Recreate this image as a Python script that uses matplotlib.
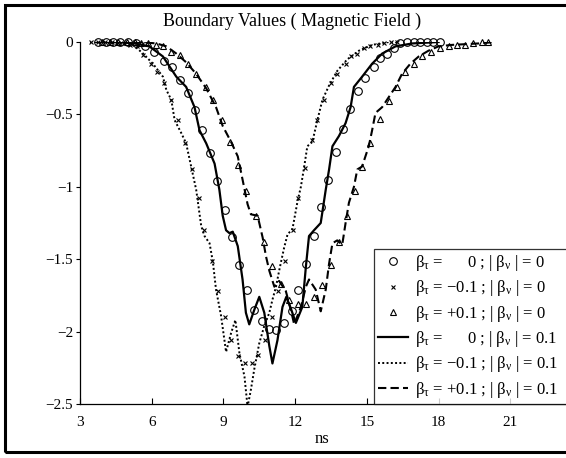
import matplotlib
matplotlib.use("Agg")
import matplotlib.pyplot as plt
from matplotlib.patches import Rectangle

plt.rcParams['font.family'] = ['Liberation Serif', 'DejaVu Serif']
plt.rcParams['mathtext.fontset'] = 'custom'
plt.rcParams['mathtext.rm'] = 'Liberation Serif'
plt.rcParams['mathtext.it'] = 'Liberation Serif:italic'

# beta_tau = 0, |beta_nu| = 0.1  (solid)
solid_t = [3.7, 4.5, 5.3, 5.9, 6.47, 7.03, 7.44, 7.79, 8.0, 8.28, 8.63, 8.83, 8.97,
           9.11, 9.25, 9.39, 9.6, 9.8, 9.94, 10.08, 10.29, 10.5, 10.71, 10.92, 11.05,
           11.26, 11.47, 11.63, 11.82, 12.03, 12.3, 12.45, 12.58, 12.79, 13.07, 13.28,
           13.42, 13.56, 13.83, 14.11, 14.32, 14.46, 14.8, 15.22, 15.64, 16.2, 16.9, 18.0]
solid_v = [0, 0, -0.01, -0.03, -0.10, -0.24, -0.31, -0.45, -0.61, -0.70, -0.84, -1.02, -1.20,
           -1.30, -1.32, -1.31, -1.41, -1.64, -1.87, -1.95, -1.85, -1.76, -1.87, -2.10, -2.22,
           -2.06, -1.83, -1.76, -1.84, -1.94, -1.83, -1.55, -1.34, -1.30, -1.25, -1.02,
           -0.88, -0.72, -0.65, -0.56, -0.45, -0.31, -0.24, -0.15, -0.08, -0.03, -0.01, 0]

# beta_tau = -0.1, |beta_nu| = 0.1  (dotted)
dot_t = [3.42, 4.3, 5.22, 5.64, 6.05, 6.47, 6.61, 6.82, 6.96, 7.24, 7.44, 7.65, 7.86, 8.07,
         8.21, 8.42, 8.56, 8.69, 8.9, 9.11, 9.32, 9.5, 9.67, 9.88, 10.01, 10.15, 10.29,
         10.5, 10.71, 10.92, 11.05, 11.2, 11.33, 11.54, 11.68, 11.89, 12.1, 12.24, 12.38,
         12.51, 12.72, 12.93, 13.14, 13.42, 13.76, 14.18, 14.67, 15.22, 15.92, 16.33]
dot_v = [0, 0, -0.02, -0.08, -0.15, -0.24, -0.33, -0.40, -0.54, -0.63, -0.70, -0.86, -1.02, -1.27,
         -1.34, -1.39, -1.52, -1.71, -1.89, -2.14, -2.01, -1.92, -2.15, -2.31, -2.52, -2.40, -2.26,
         -2.08, -1.96, -1.87, -1.78, -1.69, -1.58, -1.42, -1.33, -1.29, -1.10, -1.0, -0.86,
         -0.72, -0.69, -0.54, -0.40, -0.30, -0.20, -0.12, -0.06, -0.02, 0, 0]

# beta_tau = +0.1, |beta_nu| = 0.1  (dashed)
dash_t = [4.2, 5.5, 6.2, 6.61, 7.03, 7.44, 7.86, 8.28, 8.69, 8.97, 9.32, 9.6, 9.8, 10.01,
          10.15, 10.43, 10.64, 10.78, 10.92, 11.13, 11.33, 11.61, 11.82, 11.96, 12.24, 12.45,
          12.58, 12.86, 13.07, 13.28, 13.42, 13.56, 13.76, 13.97, 14.11, 14.25, 14.46, 14.6,
          14.8, 15.08, 15.22, 15.36, 15.64, 15.92, 16.2, 16.47, 16.82, 17.17, 17.58, 18.0,
          18.56, 19.67, 20.36]
dash_v = [0, 0, -0.01, -0.03, -0.08, -0.14, -0.22, -0.32, -0.45, -0.58, -0.69, -0.79, -0.95, -1.12,
          -1.19, -1.20, -1.35, -1.48, -1.58, -1.69, -1.65, -1.72, -1.85, -1.95, -1.83, -1.69,
          -1.64, -1.71, -1.86, -1.71, -1.53, -1.39, -1.37, -1.40, -1.25, -1.11, -1.0, -0.88,
          -0.86, -0.72, -0.61, -0.49, -0.45, -0.38, -0.31, -0.22, -0.15, -0.10, -0.06, -0.03,
          -0.02, -0.01, 0]

# beta_nu = 0 cases, markers only
circ_t = [3.76, 4.08, 4.39, 4.69, 5.01, 5.36, 5.71, 6.08, 6.5, 6.86, 7.2, 7.51, 7.83, 8.11,
          8.42, 8.74, 9.08, 9.36, 9.64, 9.97, 10.29, 10.6, 10.92, 11.22, 11.54, 11.85, 12.14,
          12.45, 12.77, 13.08, 13.38, 13.72, 14.01, 14.29, 14.64, 14.92, 15.29, 15.57, 15.85,
          16.13, 16.4, 16.68, 16.96, 17.24, 17.51, 17.76, 18.04]
circ_v = [0, 0, 0, 0, 0, -0.01, -0.03, -0.07, -0.13, -0.17, -0.26, -0.35, -0.47, -0.61,
          -0.77, -0.96, -1.16, -1.35, -1.54, -1.71, -1.85, -1.93, -1.98, -1.99, -1.94, -1.86, -1.71,
          -1.53, -1.34, -1.14, -0.95, -0.76, -0.60, -0.46, -0.34, -0.25, -0.17, -0.11, -0.08,
          -0.04, -0.01, 0, 0, 0, 0, 0, 0]

cross_t = [3.45, 3.75, 4.05, 4.35, 4.6, 4.85, 5.1, 5.4, 5.64, 5.96, 6.23, 6.52, 6.82, 7.12,
           7.4, 7.68, 7.96, 8.2, 8.53, 8.76, 9.05, 9.32, 9.61, 9.89, 10.2, 10.43, 10.75, 11.05,
           11.3, 11.57, 11.89, 12.13, 12.4, 12.72, 12.93, 13.21, 13.49, 13.76, 14.11, 14.32,
           14.6, 14.88, 15.15, 15.45, 15.72, 16.0, 16.26]
cross_v = [0, 0, 0, 0, -0.01, -0.01, -0.02, -0.03, -0.09, -0.15, -0.21, -0.28, -0.40, -0.54,
           -0.70, -0.88, -1.08, -1.30, -1.51, -1.72, -1.90, -2.06, -2.17, -2.22, -2.22, -2.16, -2.06, -1.90,
           -1.72, -1.51, -1.30, -1.08, -0.87, -0.68, -0.54, -0.40, -0.28, -0.22, -0.15, -0.10,
           -0.08, -0.04, -0.03, -0.02, -0.01, 0, 0]

tri_t = [3.9, 4.25, 4.6, 4.95, 5.3, 5.55, 5.85, 6.17, 6.47, 6.82, 7.17, 7.51, 7.87, 8.25,
         8.56, 8.92, 9.28, 9.62, 9.94, 10.36, 10.69, 11.03, 11.4, 11.75, 12.1, 12.45, 12.79,
         13.14, 13.49, 13.83, 14.18, 14.5, 14.78, 15.15, 15.57, 15.92, 16.26, 16.61, 16.96,
         17.3, 17.68, 18.07, 18.42, 18.77, 19.1, 19.46, 19.8, 20.08]
tri_v = [0, 0, 0, 0, 0, -0.01, -0.01, -0.02, -0.03, -0.07, -0.09, -0.15, -0.22, -0.31,
         -0.40, -0.54, -0.69, -0.85, -1.03, -1.20, -1.38, -1.55, -1.67, -1.78, -1.81, -1.81, -1.76,
         -1.68, -1.54, -1.38, -1.20, -1.03, -0.86, -0.70, -0.53, -0.41, -0.31, -0.21, -0.15,
         -0.10, -0.07, -0.04, -0.03, -0.02, -0.02, -0.01, 0, 0]

labels = [r'β$_{\mathrm{\tau}}$ =      0 ; | β$_{\mathrm{\nu}}$ | = 0',
          r'β$_{\mathrm{\tau}}$ = −0.1 ; | β$_{\mathrm{\nu}}$ | = 0',
          r'β$_{\mathrm{\tau}}$ = +0.1 ; | β$_{\mathrm{\nu}}$ | = 0',
          r'β$_{\mathrm{\tau}}$ =      0 ; | β$_{\mathrm{\nu}}$ | = 0.1',
          r'β$_{\mathrm{\tau}}$ = −0.1 ; | β$_{\mathrm{\nu}}$ | = 0.1',
          r'β$_{\mathrm{\tau}}$ = +0.1 ; | β$_{\mathrm{\nu}}$ | = 0.1']

W, H = 566, 458
fig = plt.figure(figsize=(W / 100, H / 100), dpi=100)
# axes run past the right edge of the picture (original was cropped)
ax = fig.add_axes([80 / W, 1 - 404 / H, (582 - 80) / W, (404 - 42) / H])

h1, = ax.plot(circ_t, circ_v, 'o', mfc='none', mec='k', ms=5.5, mew=0.8, clip_on=False)
h2, = ax.plot(cross_t, cross_v, 'x', color='k', ms=3.5, mew=0.8, clip_on=False)
h3, = ax.plot(tri_t, tri_v, '^', mfc='none', mec='k', ms=4.5, mew=0.8, clip_on=False)
h4, = ax.plot(solid_t, solid_v, '-', color='k', lw=1.6)
h5, = ax.plot(dot_t, dot_v, color='k', lw=1.4, linestyle=(0, (1, 1.2)))
h6, = ax.plot(dash_t, dash_v, color='k', lw=1.5, linestyle=(0, (4, 2)))

ax.set_xlim(3, 24)
ax.set_ylim(-2.5, 0)
ax.set_xticks([3, 6, 9, 12, 15, 18, 21])
ax.set_yticks([-2.5, -2, -1.5, -1, -0.5, 0])
ax.set_yticklabels(['−2.5', '−2', '−1.5', '−1', '−0.5', '0'])
ax.spines['top'].set_visible(False)
ax.spines['right'].set_visible(False)
for s in ['left', 'bottom']:
    ax.spines[s].set_linewidth(0.9)
ax.tick_params(axis='x', direction='in', length=4, width=0.8, labelsize=11, pad=9)
ax.tick_params(axis='y', direction='out', length=3, width=0.8, labelsize=11, pad=2)

ax.set_xlabel('ns', fontsize=12)
ax.xaxis.set_label_coords((322 - 80) / 502, -0.075)

fig.text(292 / W, 1 - 21 / H, 'Boundary Values ( Magnetic Field )', fontsize=13,
         ha='center', va='center')

x0 = (374 - 80) / 502
leg = ax.legend([h1, h2, h3, h4, h5, h6], labels, loc='lower left',
                bbox_to_anchor=(x0, 0, 1 - x0, 0.4), mode='expand', borderaxespad=0,
                fontsize=12, frameon=True, fancybox=False, handlelength=1.8,
                handletextpad=0.4, labelspacing=0.32, borderpad=0.25)
leg.get_frame().set_edgecolor('k')
leg.get_frame().set_linewidth(0.9)

fig.add_artist(Rectangle((5 / W, 1 - 452 / H), 1.0, (452 - 5) / H,
                         transform=fig.transFigure, fill=False, lw=2.2, edgecolor='k'))

fig.savefig('out.png', dpi=100)
